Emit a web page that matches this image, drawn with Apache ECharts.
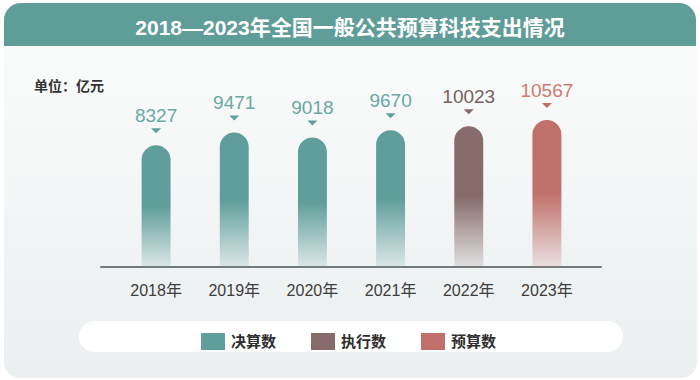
<!DOCTYPE html>
<html>
<head>
<meta charset="utf-8">
<script src="https://cdn.jsdelivr.net/npm/echarts@6/dist/echarts.min.js"></script>
<style>
html,body{margin:0;padding:0;background:#ffffff;}
#chart{width:700px;height:380px;}
</style>
</head>
<body>
<div id="chart"></div>
<script>
// ---- data ----
const categories = ['2018年', '2019年', '2020年', '2021年', '2022年', '2023年'];
const finalValues = [8327, 9471, 9018, 9670];      // 决算数 2018-2021
const executedValues = [10023];                     // 执行数 2022
const budgetValues = [10567];                       // 预算数 2023
const seriesNames = ['决算数', '执行数', '预算数'];
const titleText = '2018—2023年全国一般公共预算科技支出情况';
const unitText = '单位：亿元';

// ---- styles ----
const FONT = '"Liberation Sans", "Noto Sans CJK SC", sans-serif';
const barColors = ['#5f9e9a', '#876b6b', '#c0706a'];
const fadeColors = ['rgba(95,158,154,0.14)', 'rgba(135,107,107,0.14)', 'rgba(192,112,106,0.14)'];
const labelColors = ['#6aa8a3', '#7a5f5f', '#cf7a72'];
const Y_MIN = -2500, Y_MAX = 12000;

const chart = echarts.init(document.getElementById('chart'), null, {renderer: 'svg'});

function makeRender(si) {
  return function (params, api) {
    const xi = api.value(0), v = api.value(1);
    const top = api.coord([xi, v]);
    const base = api.coord([xi, Y_MIN]);
    const w = api.size([1, 0])[0] * 0.37;
    const h = base[1] - top[1];
    return {
      type: 'group',
      children: [
        {
          type: 'rect',
          shape: {x: top[0] - w / 2, y: top[1], width: w, height: h, r: [w / 2, w / 2, 0, 0]},
          style: {
            fill: new echarts.graphic.LinearGradient(0, 0, 0, 1, [
              {offset: 0, color: barColors[si]},
              {offset: 0.5, color: barColors[si]},
              {offset: 1, color: fadeColors[si]}
            ])
          }
        },
        {
          type: 'polygon',
          shape: {points: [[top[0] - 5, top[1] - 17], [top[0] + 5, top[1] - 17], [top[0], top[1] - 12]]},
          style: {fill: barColors[si]}
        },
        {
          type: 'text',
          style: {
            text: String(v), x: top[0], y: top[1] - 30,
            align: 'center', verticalAlign: 'middle',
            fill: labelColors[si], fontSize: 19, fontFamily: FONT
          }
        }
      ]
    };
  };
}

const groups = [
  finalValues.map((v, i) => [i, v]),
  executedValues.map((v, i) => [finalValues.length + i, v]),
  budgetValues.map((v, i) => [finalValues.length + executedValues.length + i, v])
];

const option = {
  animation: false,
  backgroundColor: '#ffffff',
  graphic: [
    {
      type: 'rect', z: -10, silent: true,
      shape: {x: 4, y: 40, width: 693, height: 338, r: [0, 0, 16, 16]},
      style: {fill: new echarts.graphic.LinearGradient(0, 0, 0, 1, [
        {offset: 0, color: '#fafbfb'}, {offset: 1, color: '#ebeff0'}
      ])}
    },
    {
      type: 'rect', z: -9, silent: true,
      shape: {x: 4, y: 3, width: 692, height: 43, r: [17, 17, 0, 0]},
      style: {fill: '#5f9d99'}
    },
    {
      type: 'rect', z: -8, silent: true,
      shape: {x: 79, y: 321, width: 544, height: 31, r: 15.5},
      style: {fill: '#ffffff'}
    }
  ],
  title: [
    {
      text: titleText, left: 'center', top: 12,
      textStyle: {color: '#ffffff', fontSize: 21, fontWeight: 'bold', fontFamily: FONT}
    },
    {
      text: unitText, left: 29, top: 74,
      textStyle: {color: '#333333', fontSize: 14, fontWeight: 'bold', fontFamily: FONT}
    }
  ],
  legend: {
    left: 196, top: 328,
    icon: 'rect', itemWidth: 24, itemHeight: 17, itemGap: 35,
    data: seriesNames,
    textStyle: {color: '#2e2e2e', fontSize: 15, fontWeight: 'bold', fontFamily: FONT, padding: [0, 0, 0, 1]}
  },
  grid: [
    {left: 117, right: 114, top: 104, bottom: 113},
    {left: 101, right: 99, top: 104, bottom: 113}
  ],
  xAxis: [
    {
      type: 'category', gridIndex: 0, data: categories,
      axisLine: {show: false}, axisTick: {show: false},
      axisLabel: {color: '#3d3d3d', fontSize: 16, margin: 15, fontFamily: FONT}
    },
    {
      type: 'category', gridIndex: 1, data: categories,
      axisLine: {show: true, lineStyle: {color: '#737b7b', width: 2}},
      axisTick: {show: false}, axisLabel: {show: false}
    }
  ],
  yAxis: [
    {type: 'value', gridIndex: 0, min: Y_MIN, max: Y_MAX, show: false, splitLine: {show: false}},
    {type: 'value', gridIndex: 1, min: 0, max: 1, show: false, splitLine: {show: false}}
  ],
  series: groups.map((d, si) => ({
    type: 'custom',
    name: seriesNames[si],
    xAxisIndex: 0, yAxisIndex: 0,
    itemStyle: {color: barColors[si]},
    renderItem: makeRender(si),
    data: d,
    z: 5
  }))
};
chart.setOption(option);
</script>
</body>
</html>
